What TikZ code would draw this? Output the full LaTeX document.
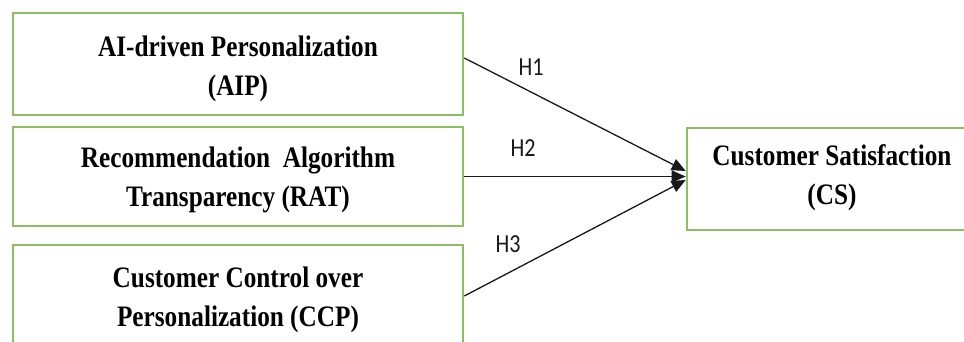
\documentclass[tikz,border=0pt]{standalone}
\usepackage{fontspec}
\setmainfont{Liberation Serif}[FakeStretch=0.85]
\newfontfamily\hfont{Carlito}[FakeStretch=0.85]
\usetikzlibrary{arrows.meta}
\definecolor{boxgreen}{RGB}{141,190,98}
\tikzset{
  varbox/.style={draw=boxgreen, line width=2.6pt, fill=white, inner sep=0pt},
  vartext/.style={align=center, inner sep=0pt,
    font=\fontsize{29.7}{39}\selectfont\bfseries},
  hyparrow/.style={draw=black!90, line width=1.3pt, -{Triangle[length=14pt,width=12pt]}},
  hlabel/.style={font=\hfont\fontsize{26}{30}\selectfont, text=black!90, inner sep=0pt}
}
\begin{document}
\begin{tikzpicture}[x=1pt,y=-1pt]
\useasboundingbox (0,0) rectangle (964,342);
\clip (0,0) rectangle (964,342);
\fill[white] (0,0) rectangle (964,342);
\node[varbox, minimum width=450pt, minimum height=102pt] (aip) at (238,64) {};
\node[vartext] (aipt) at ([yshift=-5pt]aip.center) {AI-driven Personalization\\(AIP)};
\node[varbox, minimum width=450pt, minimum height=99pt] (rat) at (238,176.5) {};
\node[vartext] (ratt) at ([yshift=-3pt]rat.center) {Recommendation\ \ Algorithm\\Transparency (RAT)};
\node[varbox, minimum width=450pt, minimum height=102pt] (ccp) at (238,296) {};
\node[vartext] (ccpt) at ([yshift=-4pt]ccp.center) {Customer Control over\\Personalization (CCP)};
\node[varbox, minimum width=290pt, minimum height=102pt] (cs) at (832,179) {};
\node[vartext] (cst) at ([yshift=1pt]cs.center) {Customer Satisfaction\\(CS)};
\draw[hyparrow] ([yshift=6pt]aip.east) -- ([yshift=8pt]cs.west);
\draw[hyparrow] (rat.east) -- ([yshift=2.5pt]cs.west);
\draw[hyparrow] (ccp.east) -- ([yshift=-1pt]cs.west);
\node[hlabel] (h1) at (531,67) {H1};
\node[hlabel] (h2) at (523,148) {H2};
\node[hlabel] (h3) at (508,244) {H3};
\end{tikzpicture}
\end{document}
